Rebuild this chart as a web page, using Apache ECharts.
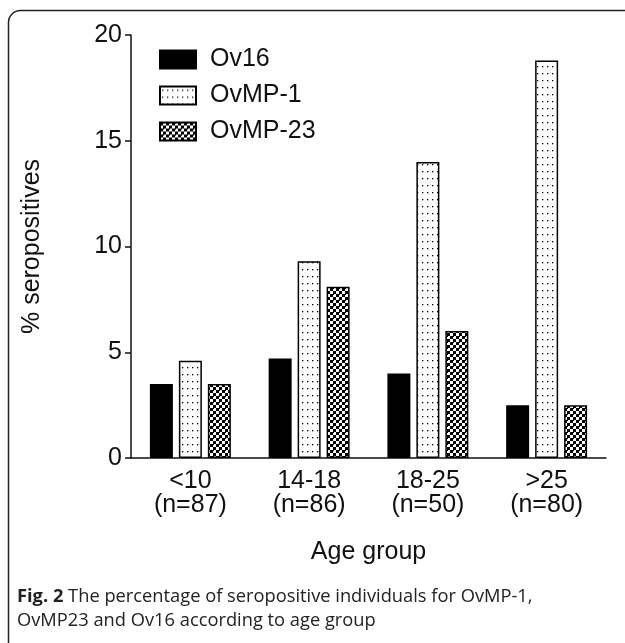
<!DOCTYPE html>
<html><head><meta charset="utf-8">
<script src="https://cdn.jsdelivr.net/npm/echarts@6/dist/echarts.min.js"></script>
<style>html,body{margin:0;padding:0;background:#fff}#c{width:625px;height:643px}</style>
</head><body><div id="c"></div>
<script>
var categories = ['<10\n(n=87)', '14-18\n(n=86)', '18-25\n(n=50)', '>25\n(n=80)'];
var ov16 = [3.5, 4.7, 4.0, 2.5];
var ovmp1 = [4.6, 9.3, 14.0, 18.8];
var ovmp23 = [3.5, 8.1, 6.0, 2.5];
var yTicks = [0, 5, 10, 15, 20];

function dotPattern() {
  var c = document.createElement('canvas'); c.width = 5; c.height = 7;
  var g = c.getContext('2d'); g.fillStyle = '#fff'; g.fillRect(0,0,5,7);
  g.fillStyle = '#000'; g.fillRect(2,3,1.3,1.3);
  return c;
}
function checkPattern() {
  var c = document.createElement('canvas'); c.width = 6; c.height = 6;
  var g = c.getContext('2d'); g.fillStyle = '#fff'; g.fillRect(0,0,6,6);
  g.fillStyle = '#000'; g.fillRect(0,0,3,3); g.fillRect(3,3,3,3);
  g.fillRect(2,0,2,1);
  return c;
}
var FONT = 'Liberation Sans';
var chart = echarts.init(document.getElementById('c'), null, {renderer: 'canvas'});
chart.setOption({
  backgroundColor: '#fff',
  animation: false,
  textStyle: {fontFamily: FONT},
  grid: {left: 131, right: 19, top: 35, bottom: 185, containLabel: false},
  legend: {
    orient: 'vertical', left: 154, top: 42, itemWidth: 36, itemHeight: 18, itemGap: 11,
    icon: 'rect',
    textStyle: {fontSize: 25, color: '#111', fontFamily: FONT, padding: [0,0,0,9]},
    data: ['Ov16', 'OvMP-1', 'OvMP-23']
  },
  xAxis: {
    type: 'category', data: categories,
    name: 'Age group', nameLocation: 'middle', nameGap: 82,
    nameTextStyle: {fontSize: 25, color: '#111', fontFamily: FONT},
    axisLine: {lineStyle: {color: '#111', width: 1.5}},
    axisTick: {alignWithLabel: true, length: 7, lineStyle: {color: '#111', width: 1.5}},
    axisLabel: {fontSize: 25, color: '#111', lineHeight: 24, margin: 11, fontFamily: FONT}
  },
  yAxis: {
    type: 'value', min: 0, max: 20, interval: 5,
    name: '% seropositives', nameLocation: 'middle', nameGap: 86, nameRotate: 90,
    nameTextStyle: {fontSize: 25, color: '#111', fontFamily: FONT},
    axisLine: {show: true, lineStyle: {color: '#111', width: 1.5}},
    axisTick: {show: true, length: 6, lineStyle: {color: '#111', width: 1.5}},
    splitLine: {show: false},
    axisLabel: {fontSize: 25, color: '#111', margin: 9, fontFamily: FONT,
      formatter: function(v){ return yTicks.indexOf(v) >= 0 ? String(v) : ''; }}
  },
  series: [
    {name: 'Ov16', type: 'bar', data: ov16, barWidth: 23, barGap: '26%',
     itemStyle: {color: '#000', borderColor: '#000', borderWidth: 1.5}},
    {name: 'OvMP-1', type: 'bar', data: ovmp1, barWidth: 23, barGap: '26%',
     itemStyle: {color: {image: dotPattern(), repeat: 'repeat'}, borderColor: '#000', borderWidth: 1.5}},
    {name: 'OvMP-23', type: 'bar', data: ovmp23, barWidth: 23, barGap: '26%',
     itemStyle: {color: {image: checkPattern(), repeat: 'repeat'}, borderColor: '#000', borderWidth: 1.5}}
  ],
  graphic: [
    {type: 'rect', shape: {x: 8.5, y: 10.5, width: 800, height: 800, r: 12}, silent: true,
     style: {fill: 'none', stroke: '#222', lineWidth: 1.5}},
    {type: 'text', left: 17, top: 585, silent: true,
     style: {text: '{b|Fig. 2} The percentage of seropositive individuals for OvMP-1,\nOvMP23 and Ov16 according to age group',
       font: '18.3px "Open Sans"', fill: '#222', lineHeight: 24,
       rich: {b: {fontWeight: 'bold', fontFamily: 'Open Sans', fontSize: 18.3, fill: '#222'}}}}
  ]
});
</script></body></html>
